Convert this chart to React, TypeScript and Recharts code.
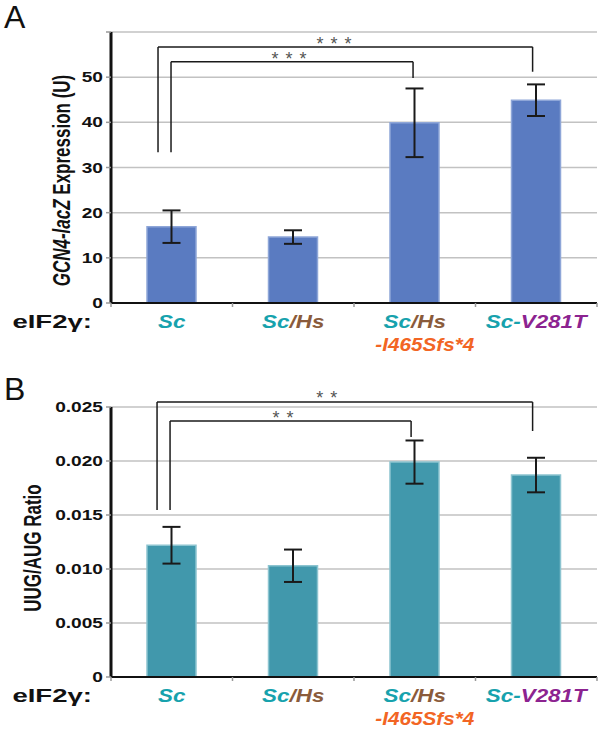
import React from 'react';
import {
  BarChart, Bar, XAxis, YAxis, CartesianGrid, ErrorBar, ReferenceLine, ReferenceDot,
} from 'recharts';

// ---------- data ----------
const categories = ['Sc', 'Sc/Hs', 'Sc/Hs-I465Sfs*4', 'Sc-V281T'];
const expressionValues = [16.9, 14.6, 39.9, 44.9];
const expressionErrors = [3.6, 1.5, 7.6, 3.5];
const ratioValues = [0.0122, 0.0103, 0.0199, 0.0187];
const ratioErrors = [0.0017, 0.0015, 0.002, 0.0016];
const expressionTicks = [0, 10, 20, 30, 40, 50, 60];
const ratioTicks = [0, 0.005, 0.01, 0.015, 0.02, 0.025];
const categoryCenters = [0.5, 1.5, 2.5, 3.5];
const categoryPositions = [0, 0.5, 1, 1.5, 2, 2.5, 3, 3.5, 4];

// significance brackets (x in category units, y in data units)
const expressionBrackets = [
  { x1: 0.387, x2: 3.47, top: 56.7, leftEnd: 33.4, rightEnd: 51.2, stars: '* * *', sx: 1.84, sy: 58.4 },
  { x1: 0.494, x2: 2.486, top: 53.4, leftEnd: 33.4, rightEnd: 49.8, stars: '* * *', sx: 1.47, sy: 55.2 },
];
const ratioBrackets = [
  { x1: 0.379, x2: 3.47, top: 0.02546, leftEnd: 0.01546, rightEnd: 0.02278, stars: '* *', sx: 1.78, sy: 0.0263 },
  { x1: 0.486, x2: 2.47, top: 0.0237, leftEnd: 0.01546, rightEnd: 0.02222, stars: '* *', sx: 1.42, sy: 0.02444 },
];

const expressionData = categories.map((name, i) => ({ name, pos: categoryCenters[i], value: expressionValues[i], err: expressionErrors[i] }));
const ratioData = categories.map((name, i) => ({ name, pos: categoryCenters[i], value: ratioValues[i], err: ratioErrors[i] }));

// ---------- styles ----------
const FONT = '"Liberation Sans", Arial, Helvetica, sans-serif';
const TEAL = '#17a2ad';
const BROWN = '#8a5b3b';
const ORANGE = '#f26524';
const PURPLE = '#8c2390';

const labelParts: { line1: [string, string][]; line2?: [string, string][] }[] = [
  { line1: [['Sc', TEAL]] },
  { line1: [['Sc', TEAL], ['/Hs', BROWN]] },
  { line1: [['Sc', TEAL], ['/Hs', BROWN]], line2: [['-I465Sfs*4', ORANGE]] },
  { line1: [['Sc-', TEAL], ['V281T', PURPLE]] },
];

const StretchText = ({ x, y, sx = 1.4, anchor = 'middle', size, weight = 'bold', italic = false, fill = '#111', children }: any) => (
  <g transform={`translate(${x},${y}) scale(${sx},1)`}>
    <text x={0} y={0} textAnchor={anchor} fontFamily={FONT} fontSize={size} fontWeight={weight}
      fontStyle={italic ? 'italic' : 'normal'} fill={fill}>
      {children}
    </text>
  </g>
);

const makeYTick = (fmt: (v: number) => string, hide?: number) => (props: any) => {
  const { x, y, payload } = props;
  if (hide !== undefined && payload.value === hide) return <g />;
  return (
    <StretchText x={x} y={y + 5} anchor="end" size={14.5} sx={1.32}>{fmt(payload.value)}</StretchText>
  );
};

const XTick = (props: any) => {
  const { x, y, payload } = props;
  const v = payload.value;
  if (Number.isInteger(v)) {
    return <line x1={x} y1={y} x2={x} y2={y + 4} stroke="#999" strokeWidth={1.5} />;
  }
  const parts = labelParts[Math.floor(v)];
  if (!parts) return <g />;
  return (
    <g>
      <StretchText x={x} y={y + 25} size={19} sx={1.18} italic>
        {parts.line1.map(([t, c], i) => <tspan key={i} fill={c}>{t}</tspan>)}
      </StretchText>
      {parts.line2 && (
        <StretchText x={x + 10} y={y + 48} size={18} sx={1.15} italic>
          {parts.line2.map(([t, c], i) => <tspan key={i} fill={c}>{t}</tspan>)}
        </StretchText>
      )}
    </g>
  );
};

const xAxisLabel = (props: any) => {
  const { viewBox } = props;
  return (
    <StretchText x={viewBox.x - 19} y={viewBox.y + 25} anchor="end" size={19} sx={1.45}>eIF2γ:</StretchText>
  );
};

const RotLabel = ({ cx, cy, size, children }: any) => (
  <g transform={`translate(${cx},${cy}) scale(1.4,1) rotate(-90)`}>
    <text x={0} y={size * 0.36} textAnchor="middle" fontFamily={FONT} fontSize={size} fontWeight="bold" fill="#111">
      {children}
    </text>
  </g>
);

const renderBrackets = (brackets: any[]) => {
  const out: any[] = [];
  brackets.forEach((b, i) => {
    const common = { xAxisId: 'num', stroke: '#1a1a1a', strokeWidth: 1.5, ifOverflow: 'visible' as const };
    out.push(<ReferenceLine key={`l${i}`} {...common} segment={[{ x: b.x1, y: b.leftEnd }, { x: b.x1, y: b.top }]} />);
    out.push(<ReferenceLine key={`t${i}`} {...common} segment={[{ x: b.x1, y: b.top }, { x: b.x2, y: b.top }]} />);
    out.push(<ReferenceLine key={`r${i}`} {...common} segment={[{ x: b.x2, y: b.top }, { x: b.x2, y: b.rightEnd }]} />);
    out.push(
      <ReferenceDot key={`s${i}`} xAxisId="num" x={b.sx} y={b.sy} r={0} ifOverflow="visible"
        shape={(p: any) => (
          <text x={p.cx} y={p.cy + 11} textAnchor="middle" fontFamily={FONT} fontSize={18} fill="#555"
            letterSpacing={1}>{b.stars}</text>
        )} />
    );
  });
  return out;
};

const Panel = ({ data, ticks, domain, fmt, hideTick, brackets, fill, stroke, yLabel, height, top, marginTop, xHeight, labelX, labelDY }: any) => (
  <div style={{ position: 'absolute', left: 0, top }}>
    <BarChart width={600} height={height} data={data} margin={{ top: marginTop, right: 3, bottom: 0, left: 0 }} barCategoryGap={0}>
      <CartesianGrid vertical={false} stroke="#c2c2c2" strokeWidth={1.5} />
      <XAxis xAxisId="cat" dataKey="name" hide height={0} />
      <XAxis xAxisId="num" dataKey="pos" type="number" domain={[0, 4]} ticks={categoryPositions} interval={0}
        axisLine={{ stroke: '#111', strokeWidth: 2 }} tickLine={false} tickSize={0} tickMargin={0}
        height={xHeight} tick={<XTick />} label={{ content: xAxisLabel }} allowDataOverflow />
      <YAxis type="number" domain={domain} ticks={ticks} interval={0} width={111}
        axisLine={{ stroke: '#111', strokeWidth: 3 }} tickLine={{ stroke: '#999', strokeWidth: 1.5 }}
        tickSize={5} tickMargin={3} tick={makeYTick(fmt, hideTick)} allowDataOverflow
        label={{
          content: (p: any) => (
            <RotLabel cx={p.viewBox.x + labelX} cy={p.viewBox.y + p.viewBox.height / 2 + labelDY} size={17}>{yLabel}</RotLabel>
          ),
        }} />
      <Bar xAxisId="cat" dataKey="value" fill={fill} stroke={stroke} strokeWidth={1.5} barSize={49} isAnimationActive={false}>
        <ErrorBar dataKey="err" width={9} strokeWidth={2} stroke="#1a1a1a" direction="y" />
      </Bar>
      {renderBrackets(brackets)}
    </BarChart>
  </div>
);

export default function App() {
  return (
    <div style={{ position: 'absolute', left: 0, top: 0, width: 600, height: 729, background: '#fff', overflow: 'hidden' }}>
      <Panel
        data={expressionData} ticks={expressionTicks} domain={[0, 60]} fmt={(v: number) => String(v)} hideTick={60}
        brackets={expressionBrackets} fill="#5a7bc1" stroke="#8ea6d8" top={0} marginTop={32} height={360} xHeight={57}
        labelX={61} labelDY={13}
        yLabel={<><tspan fontStyle="italic">GCN4-lacZ</tspan> Expression (U)</>}
      />
      <Panel
        data={ratioData} ticks={ratioTicks} domain={[0, 0.025]} fmt={(v: number) => (v === 0 ? '0' : v.toFixed(3))}
        brackets={ratioBrackets} fill="#4198ac" stroke="#8cc4d0" top={360} marginTop={47} height={369} xHeight={52}
        labelX={32} labelDY={6}
        yLabel="UUG/AUG Ratio"
      />
      <div style={{ position: 'absolute', left: 4, top: 1, fontFamily: FONT, fontSize: 32, lineHeight: 1, color: '#111' }}>A</div>
      <div style={{ position: 'absolute', left: 4, top: 373, fontFamily: FONT, fontSize: 32, lineHeight: 1, color: '#111' }}>B</div>
    </div>
  );
}
